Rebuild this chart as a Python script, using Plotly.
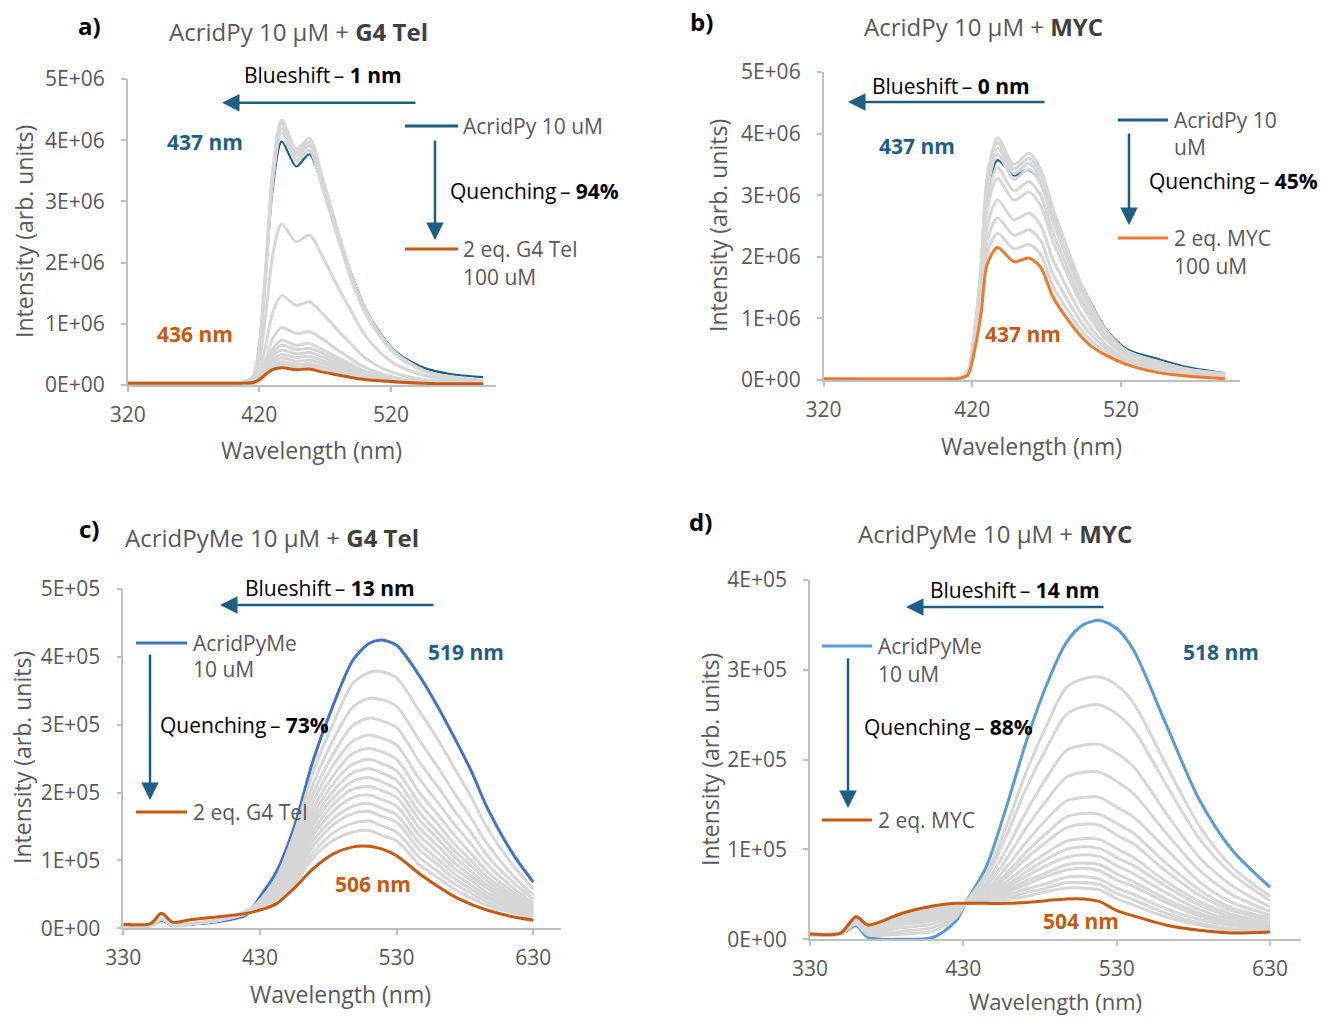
import plotly.graph_objects as go

W, H = 1321, 1018
FONT = "Open Sans"
GRAY_TXT = "#595959"
TEAL = "#1F5F82"
GRAY_LINE = "#D6D6D6"

# ---------------- Panel a: AcridPy + G4 Tel (intensity in units of 1E+06) ----------------
wl_a = [320, 405, 415, 420, 425, 430, 437, 448, 458, 468, 481, 491, 500, 512, 525, 545, 565, 590]
first_a = [0.03, 0.03, 0.14, 0.66, 1.85, 3.18, 3.98, 3.57, 3.77, 3.25, 2.35, 1.75, 1.27, 0.84, 0.52, 0.28, 0.18, 0.13]
last_a = [0.03, 0.03, 0.04, 0.09, 0.18, 0.25, 0.28, 0.25, 0.26, 0.21, 0.16, 0.12, 0.09, 0.07, 0.05, 0.03, 0.02, 0.02]
gray_a = [
    [0.03, 0.03, 0.13, 0.65, 1.95, 3.46, 4.33, 3.85, 4.03, 3.38, 2.42, 1.73, 1.26, 0.82, 0.50, 0.24, 0.13, 0.07],
    [0.03, 0.03, 0.13, 0.64, 1.92, 3.42, 4.27, 3.80, 3.97, 3.33, 2.39, 1.71, 1.24, 0.81, 0.49, 0.23, 0.13, 0.07],
    [0.03, 0.03, 0.13, 0.63, 1.89, 3.36, 4.20, 3.74, 3.91, 3.28, 2.35, 1.68, 1.22, 0.80, 0.48, 0.23, 0.13, 0.07],
    [0.03, 0.03, 0.12, 0.62, 1.85, 3.30, 4.12, 3.67, 3.83, 3.21, 2.31, 1.65, 1.19, 0.78, 0.47, 0.23, 0.12, 0.07],
    [0.03, 0.03, 0.08, 0.39, 1.18, 2.10, 2.63, 2.34, 2.45, 2.10, 1.55, 1.16, 0.82, 0.53, 0.32, 0.16, 0.09, 0.05],
    [0.03, 0.03, 0.04, 0.22, 0.66, 1.17, 1.46, 1.30, 1.36, 1.17, 0.86, 0.64, 0.45, 0.29, 0.18, 0.09, 0.05, 0.03],
    [0.03, 0.03, 0.03, 0.14, 0.42, 0.75, 0.94, 0.84, 0.87, 0.75, 0.55, 0.41, 0.29, 0.19, 0.11, 0.06, 0.04, 0.03],
    [0.03, 0.03, 0.03, 0.11, 0.33, 0.58, 0.73, 0.65, 0.68, 0.58, 0.43, 0.32, 0.23, 0.15, 0.09, 0.05, 0.03, 0.02],
    [0.03, 0.03, 0.03, 0.10, 0.29, 0.52, 0.65, 0.58, 0.60, 0.52, 0.38, 0.29, 0.20, 0.13, 0.08, 0.04, 0.03, 0.02],
    [0.03, 0.03, 0.03, 0.09, 0.26, 0.46, 0.57, 0.51, 0.53, 0.46, 0.34, 0.25, 0.18, 0.11, 0.07, 0.04, 0.03, 0.02],
    [0.03, 0.03, 0.03, 0.08, 0.23, 0.40, 0.50, 0.45, 0.47, 0.40, 0.30, 0.22, 0.16, 0.10, 0.06, 0.04, 0.03, 0.02],
    [0.03, 0.03, 0.03, 0.07, 0.20, 0.35, 0.44, 0.39, 0.41, 0.35, 0.26, 0.19, 0.14, 0.09, 0.05, 0.03, 0.02, 0.02],
    [0.03, 0.03, 0.03, 0.06, 0.17, 0.30, 0.38, 0.34, 0.35, 0.30, 0.22, 0.17, 0.12, 0.08, 0.05, 0.03, 0.02, 0.02],
    [0.03, 0.03, 0.03, 0.05, 0.15, 0.26, 0.33, 0.29, 0.31, 0.26, 0.19, 0.15, 0.10, 0.07, 0.04, 0.03, 0.02, 0.02],
]

# ---------------- Panel b: AcridPy + MYC (units of 1E+06) ----------------
wl_b = [320, 405, 412, 417, 421, 426, 430, 437, 448, 458, 466, 474, 483, 492, 500, 510, 524, 545, 566, 590]
first_b = [0.02, 0.02, 0.04, 0.14, 0.63, 1.72, 3.00, 3.57, 3.32, 3.41, 3.20, 2.70, 2.15, 1.62, 1.24, 0.82, 0.50, 0.34, 0.20, 0.11]
last_b = [0.02, 0.02, 0.03, 0.08, 0.42, 1.10, 1.88, 2.15, 1.92, 1.98, 1.83, 1.36, 1.02, 0.74, 0.55, 0.40, 0.25, 0.12, 0.06, 0.02]
gray_b = [
    [0.02, 0.02, 0.04, 0.15, 0.70, 1.90, 3.30, 3.93, 3.50, 3.68, 3.42, 2.80, 2.20, 1.62, 1.22, 0.80, 0.47, 0.30, 0.17, 0.10],
    [0.02, 0.02, 0.04, 0.15, 0.69, 1.86, 3.24, 3.85, 3.43, 3.60, 3.35, 2.73, 2.15, 1.58, 1.19, 0.78, 0.46, 0.29, 0.17, 0.10],
    [0.02, 0.02, 0.04, 0.14, 0.67, 1.82, 3.16, 3.76, 3.35, 3.52, 3.27, 2.66, 2.09, 1.54, 1.16, 0.76, 0.45, 0.28, 0.16, 0.09],
    [0.02, 0.02, 0.04, 0.14, 0.66, 1.78, 3.08, 3.66, 3.26, 3.42, 3.18, 2.58, 2.02, 1.49, 1.12, 0.74, 0.44, 0.27, 0.15, 0.09],
    [0.02, 0.02, 0.04, 0.13, 0.62, 1.68, 2.92, 3.45, 3.07, 3.22, 2.99, 2.41, 1.88, 1.38, 1.04, 0.69, 0.41, 0.25, 0.14, 0.08],
    [0.02, 0.02, 0.04, 0.12, 0.60, 1.60, 2.77, 3.27, 2.92, 3.05, 2.83, 2.26, 1.76, 1.29, 0.97, 0.65, 0.39, 0.23, 0.13, 0.07],
    [0.02, 0.02, 0.03, 0.11, 0.54, 1.44, 2.49, 2.92, 2.60, 2.71, 2.51, 1.97, 1.53, 1.12, 0.84, 0.57, 0.34, 0.20, 0.11, 0.05],
    [0.02, 0.02, 0.03, 0.10, 0.50, 1.32, 2.26, 2.63, 2.35, 2.44, 2.26, 1.73, 1.34, 0.98, 0.73, 0.51, 0.31, 0.17, 0.09, 0.04],
    [0.02, 0.02, 0.03, 0.09, 0.46, 1.20, 2.06, 2.38, 2.13, 2.20, 2.04, 1.53, 1.17, 0.85, 0.64, 0.45, 0.28, 0.14, 0.07, 0.03],
]

# ---------------- Panel c: AcridPyMe + G4 Tel (units of 1E+05) ----------------
wl_c = [330, 350, 358, 366, 380, 400, 420, 432, 442, 455, 469, 484, 498, 510, 519, 530, 547, 560, 572, 585, 596, 615, 630]
first_c = [0.04, 0.04, 0.12, 0.04, 0.06, 0.10, 0.20, 0.52, 0.83, 1.49, 2.48, 3.31, 3.95, 4.20, 4.25, 4.17, 3.71, 3.27, 2.82, 2.30, 1.79, 1.10, 0.68]
last_c = [0.06, 0.07, 0.22, 0.09, 0.13, 0.17, 0.22, 0.28, 0.36, 0.59, 0.88, 1.10, 1.20, 1.21, 1.17, 1.07, 0.80, 0.62, 0.47, 0.35, 0.27, 0.17, 0.12]
gray_c = [
    [0.04, 0.04, 0.14, 0.05, 0.07, 0.12, 0.22, 0.46, 0.74, 1.39, 2.31, 3.04, 3.61, 3.77, 3.78, 3.69, 3.19, 2.79, 2.37, 1.92, 1.49, 0.93, 0.58],
    [0.04, 0.04, 0.14, 0.05, 0.07, 0.12, 0.23, 0.45, 0.71, 1.29, 2.13, 2.79, 3.26, 3.39, 3.37, 3.27, 2.76, 2.38, 2.00, 1.61, 1.25, 0.78, 0.49],
    [0.04, 0.04, 0.14, 0.05, 0.07, 0.12, 0.24, 0.44, 0.67, 1.21, 1.99, 2.58, 2.99, 3.10, 3.06, 2.96, 2.44, 2.09, 1.74, 1.40, 1.08, 0.68, 0.43],
    [0.04, 0.04, 0.14, 0.05, 0.07, 0.12, 0.25, 0.43, 0.64, 1.13, 1.87, 2.41, 2.76, 2.85, 2.80, 2.70, 2.19, 1.86, 1.54, 1.23, 0.95, 0.60, 0.38],
    [0.04, 0.04, 0.14, 0.05, 0.07, 0.12, 0.25, 0.42, 0.62, 1.07, 1.76, 2.26, 2.58, 2.65, 2.60, 2.49, 1.99, 1.68, 1.38, 1.09, 0.84, 0.54, 0.34],
    [0.04, 0.04, 0.14, 0.05, 0.07, 0.12, 0.25, 0.41, 0.60, 1.02, 1.67, 2.14, 2.42, 2.49, 2.43, 2.32, 1.83, 1.54, 1.25, 0.99, 0.76, 0.49, 0.31],
    [0.04, 0.04, 0.14, 0.05, 0.07, 0.12, 0.25, 0.40, 0.58, 0.97, 1.59, 2.03, 2.29, 2.35, 2.29, 2.18, 1.70, 1.42, 1.15, 0.91, 0.70, 0.45, 0.29],
    [0.04, 0.04, 0.14, 0.05, 0.07, 0.12, 0.25, 0.39, 0.56, 0.93, 1.52, 1.93, 2.17, 2.22, 2.16, 2.05, 1.59, 1.32, 1.06, 0.83, 0.64, 0.42, 0.27],
    [0.04, 0.04, 0.14, 0.05, 0.07, 0.12, 0.25, 0.38, 0.53, 0.88, 1.44, 1.83, 2.05, 2.09, 2.03, 1.93, 1.47, 1.22, 0.97, 0.76, 0.59, 0.38, 0.25],
    [0.04, 0.04, 0.14, 0.05, 0.07, 0.12, 0.25, 0.37, 0.51, 0.84, 1.37, 1.73, 1.93, 1.96, 1.90, 1.80, 1.36, 1.12, 0.89, 0.70, 0.53, 0.35, 0.23],
    [0.04, 0.04, 0.14, 0.05, 0.07, 0.12, 0.25, 0.36, 0.48, 0.79, 1.29, 1.62, 1.80, 1.84, 1.77, 1.67, 1.25, 1.02, 0.81, 0.63, 0.48, 0.32, 0.21],
    [0.04, 0.04, 0.14, 0.05, 0.07, 0.12, 0.25, 0.35, 0.46, 0.74, 1.21, 1.53, 1.69, 1.72, 1.65, 1.56, 1.15, 0.94, 0.74, 0.57, 0.44, 0.29, 0.19],
    [0.04, 0.04, 0.14, 0.05, 0.07, 0.12, 0.24, 0.33, 0.43, 0.69, 1.12, 1.41, 1.55, 1.58, 1.51, 1.42, 1.04, 0.84, 0.66, 0.51, 0.39, 0.26, 0.17],
    [0.04, 0.04, 0.14, 0.05, 0.07, 0.12, 0.23, 0.31, 0.39, 0.64, 1.04, 1.30, 1.42, 1.44, 1.37, 1.29, 0.93, 0.75, 0.58, 0.44, 0.34, 0.23, 0.15],
]

# ---------------- Panel d: AcridPyMe + MYC (units of 1E+05) ----------------
wl_d = [330, 350, 360, 368, 390, 410, 425, 432, 445, 458, 471, 484, 497, 508, 519, 530, 541, 562, 584, 605, 630]
first_d = [0.05, 0.06, 0.15, 0.02, 0.00, 0.02, 0.20, 0.42, 0.81, 1.47, 2.20, 2.82, 3.30, 3.50, 3.55, 3.46, 3.22, 2.40, 1.55, 1.00, 0.58]
last_d = [0.06, 0.07, 0.25, 0.16, 0.29, 0.37, 0.40, 0.40, 0.40, 0.40, 0.41, 0.43, 0.45, 0.45, 0.42, 0.32, 0.26, 0.16, 0.10, 0.07, 0.08]
gray_d = [
    [0.05, 0.06, 0.17, 0.05, 0.06, 0.09, 0.24, 0.42, 0.73, 1.26, 1.86, 2.37, 2.80, 2.90, 2.92, 2.83, 2.63, 1.95, 1.26, 0.81, 0.48],
    [0.05, 0.06, 0.18, 0.06, 0.09, 0.13, 0.26, 0.41, 0.69, 1.15, 1.68, 2.12, 2.50, 2.59, 2.61, 2.51, 2.33, 1.73, 1.12, 0.73, 0.43],
    [0.05, 0.06, 0.19, 0.08, 0.13, 0.17, 0.29, 0.41, 0.63, 1.00, 1.42, 1.79, 2.10, 2.16, 2.17, 2.07, 1.92, 1.41, 0.91, 0.60, 0.36],
    [0.05, 0.07, 0.20, 0.10, 0.16, 0.21, 0.31, 0.41, 0.59, 0.89, 1.24, 1.54, 1.80, 1.86, 1.86, 1.76, 1.62, 1.19, 0.77, 0.50, 0.31],
    [0.06, 0.07, 0.21, 0.11, 0.18, 0.24, 0.33, 0.41, 0.55, 0.80, 1.08, 1.33, 1.54, 1.58, 1.58, 1.47, 1.36, 1.01, 0.64, 0.41, 0.27],
    [0.06, 0.07, 0.22, 0.12, 0.20, 0.26, 0.34, 0.41, 0.53, 0.73, 0.97, 1.18, 1.36, 1.40, 1.39, 1.29, 1.18, 0.85, 0.55, 0.35, 0.24],
    [0.06, 0.07, 0.22, 0.12, 0.21, 0.28, 0.35, 0.41, 0.51, 0.69, 0.90, 1.08, 1.24, 1.28, 1.27, 1.16, 1.06, 0.76, 0.49, 0.32, 0.22],
    [0.06, 0.07, 0.23, 0.13, 0.23, 0.29, 0.36, 0.40, 0.49, 0.64, 0.81, 0.96, 1.09, 1.12, 1.11, 1.01, 0.91, 0.65, 0.42, 0.28, 0.19],
    [0.06, 0.07, 0.23, 0.13, 0.23, 0.30, 0.36, 0.40, 0.48, 0.60, 0.75, 0.89, 1.00, 1.03, 1.01, 0.91, 0.82, 0.59, 0.38, 0.25, 0.18],
    [0.06, 0.07, 0.23, 0.14, 0.24, 0.31, 0.37, 0.40, 0.47, 0.57, 0.70, 0.82, 0.91, 0.94, 0.92, 0.82, 0.73, 0.52, 0.33, 0.22, 0.16],
    [0.06, 0.07, 0.24, 0.14, 0.25, 0.32, 0.37, 0.40, 0.45, 0.54, 0.65, 0.74, 0.83, 0.85, 0.83, 0.73, 0.64, 0.45, 0.29, 0.19, 0.14],
    [0.06, 0.07, 0.24, 0.14, 0.26, 0.33, 0.38, 0.40, 0.44, 0.52, 0.61, 0.70, 0.77, 0.79, 0.76, 0.66, 0.59, 0.41, 0.26, 0.17, 0.13],
    [0.06, 0.07, 0.24, 0.15, 0.27, 0.34, 0.38, 0.40, 0.43, 0.49, 0.56, 0.62, 0.69, 0.70, 0.67, 0.57, 0.50, 0.34, 0.22, 0.15, 0.12],
    [0.06, 0.07, 0.24, 0.15, 0.27, 0.35, 0.39, 0.40, 0.43, 0.46, 0.52, 0.57, 0.63, 0.63, 0.61, 0.51, 0.44, 0.29, 0.18, 0.12, 0.11],
    [0.06, 0.07, 0.25, 0.15, 0.28, 0.36, 0.39, 0.40, 0.42, 0.44, 0.48, 0.53, 0.57, 0.57, 0.55, 0.45, 0.38, 0.25, 0.16, 0.10, 0.10],
]

# tick labels
xticks_ab = [320, 420, 520]
xticks_cd = [330, 430, 530, 630]
yticks_ab = [0, 1, 2, 3, 4, 5]
yticklabels_ab = ["0E+00", "1E+06", "2E+06", "3E+06", "4E+06", "5E+06"]
yticks_c = [0, 1, 2, 3, 4, 5]
yticklabels_c = ["0E+00", "1E+05", "2E+05", "3E+05", "4E+05", "5E+05"]
yticks_d = [0, 1, 2, 3, 4]
yticklabels_d = ["0E+00", "1E+05", "2E+05", "3E+05", "4E+05"]


def px(x):
    return x / W


def py(y):
    return 1 - y / H


ORG_A = "#C55A11"
ORG_B = "#EE7A30"
BLUE_C = "#4472C4"
BLUE_D = "#5B9BD5"

panels = [
    # axis key, wl, first, last, grays, first colour, last colour, x-domain px, y-domain px (top,bottom), xrange, ymax, xticks, yticks, labels, first width
    ("", wl_a, first_a, last_a, gray_a, TEAL, ORG_A, (127.7, 496.3), (79, 385), [320, 600], 5, xticks_ab, yticks_ab, yticklabels_ab, 2.2),
    ("2", wl_b, first_b, last_b, gray_b, TEAL, ORG_B, (823.6, 1240), (72, 380), [320, 600], 5, xticks_ab, yticks_ab, yticklabels_ab, 2.2),
    ("3", wl_c, first_c, last_c, gray_c, BLUE_C, ORG_A, (123.3, 560.6), (589, 928.3), [330, 650], 5, xticks_cd, yticks_c, yticklabels_c, 3),
    ("4", wl_d, first_d, last_d, gray_d, BLUE_D, ORG_A, (810, 1300.7), (580, 939.3), [330, 650], 4, xticks_cd, yticks_d, yticklabels_d, 3),
]

fig = go.Figure()
layout = dict(
    width=W, height=H, margin=dict(l=0, r=0, t=0, b=0, autoexpand=False),
    paper_bgcolor="white", plot_bgcolor="white", showlegend=False,
    font=dict(family=FONT, color=GRAY_TXT),
)

for key, wl, first, last, grays, c_first, c_last, xd, yd, xr, ymax, xt, yt, ytl, fw in panels:
    xa, ya = "x" + key, "y" + key
    fig.add_trace(go.Scatter(x=wl, y=first, mode="lines", xaxis=xa, yaxis=ya,
                             line=dict(color=c_first, width=fw, shape="spline", smoothing=0.8), hoverinfo="skip"))
    for g in grays:
        fig.add_trace(go.Scatter(x=wl, y=g, mode="lines", xaxis=xa, yaxis=ya,
                                 line=dict(color=GRAY_LINE, width=3, shape="spline", smoothing=0.8),
                                 hoverinfo="skip"))
    fig.add_trace(go.Scatter(x=wl, y=last, mode="lines", xaxis=xa, yaxis=ya,
                             line=dict(color=c_last, width=3, shape="spline", smoothing=0.8), hoverinfo="skip"))
    axcommon = dict(showline=True, linecolor="#BFBFBF", linewidth=1.5, ticks="outside", tickcolor="#BFBFBF",
                    ticklen=5, tickwidth=1.5, showgrid=False, zeroline=False, automargin=False,
                    tickfont=dict(family=FONT, size=21, color=GRAY_TXT))
    layout["xaxis" + key] = dict(domain=[px(xd[0]), px(xd[1])], range=xr, tickvals=xt, anchor=ya,
                                 ticklabelstandoff=5, **axcommon)
    layout["yaxis" + key] = dict(domain=[py(yd[1]), py(yd[0])], range=[0, ymax], tickvals=yt, ticktext=ytl,
                                 anchor=xa, ticklabelstandoff=12, **axcommon)

fig.update_layout(**layout)

ann = []
shapes = []


def text(x, y, s, size=21, color=GRAY_TXT, xanchor="center", angle=0):
    ann.append(dict(x=px(x), y=py(y), xref="paper", yref="paper", text=s, showarrow=False,
                    xanchor=xanchor, yanchor="middle", textangle=angle,
                    font=dict(family=FONT, size=size, color=color)))


def arrow(x0, y0, x1, y1):
    # tail (x0,y0) -> head (x1,y1), pixel coords
    ann.append(dict(x=px(x1), y=py(y1), xref="paper", yref="paper", ax=x0 - x1, ay=y0 - y1,
                    axref="pixel", ayref="pixel", text="", showarrow=True, arrowhead=2,
                    arrowsize=1.4, arrowwidth=2.5, arrowcolor=TEAL, standoff=0))


def legline(x0, x1, y, color):
    shapes.append(dict(type="line", xref="paper", yref="paper", x0=px(x0), x1=px(x1), y0=py(y), y1=py(y),
                       line=dict(color=color, width=3)))


BLUE_LBL = "#1F5F82"
ORG_LBL = "#C55A11"
DASH = "\u2009\u2013 "
TS = 24   # panel title size
AS = 21   # annotation size
XS = 23   # axis title size

# Panel a
text(89, 25, "<b>a)</b>", 24, "black")
text(298, 32, "AcridPy 10 µM + <b><span style='color:#404040'>G4 Tel</span></b>", TS)
text(323, 75, "Blueshift" + DASH + "<b>1 nm</b>", AS, "black")
arrow(417, 102.7, 222, 102.7)
legline(405, 458, 126, TEAL)
text(461, 126, "AcridPy 10 uM", AS, GRAY_TXT, "left")
arrow(435, 139, 435, 240)
text(448, 191, "Quenching" + DASH + "<b>94%</b>", AS, "black", "left")
legline(405, 458, 249, ORG_A)
text(461, 249, "2 eq. G4 Tel", AS, GRAY_TXT, "left")
text(461, 277, "100 uM", AS, GRAY_TXT, "left")
text(205, 141.5, "<b>437 nm</b>", AS, BLUE_LBL)
text(194.5, 334.5, "<b>436 nm</b>", AS, ORG_LBL)
text(24, 232, "Intensity (arb. units)", XS, GRAY_TXT, "center", -90)
text(311, 450, "Wavelength (nm)", XS)

# Panel b
text(701, 22, "<b>b)</b>", 24, "black")
text(983, 26, "AcridPy 10 µM + <b><span style='color:#404040'>MYC</span></b>", TS)
text(951, 86, "Blueshift" + DASH + "<b>0 nm</b>", AS, "black")
arrow(1046, 102, 848, 102)
legline(1118, 1168, 120, TEAL)
text(1172, 120, "AcridPy 10", AS, GRAY_TXT, "left")
text(1172, 147, "uM", AS, GRAY_TXT, "left")
arrow(1129, 132, 1129, 225)
text(1147, 181, "Quenching" + DASH + "<b>45%</b>", AS, "black", "left")
legline(1118, 1168, 238, ORG_B)
text(1172, 238, "2 eq. MYC", AS, GRAY_TXT, "left")
text(1172, 266, "100 uM", AS, GRAY_TXT, "left")
text(917, 146, "<b>437 nm</b>", AS, BLUE_LBL)
text(1023, 334, "<b>437 nm</b>", AS, ORG_LBL)
text(718, 226, "Intensity (arb. units)", XS, GRAY_TXT, "center", -90)
text(1031, 446, "Wavelength (nm)", XS)

# Panel c
text(89, 528, "<b>c)</b>", 24, "black")
text(272, 537, "AcridPyMe 10 µM + <b><span style='color:#404040'>G4 Tel</span></b>", TS)
text(330, 588, "Blueshift" + DASH + "<b>13 nm</b>", AS, "black")
arrow(435, 605, 220, 605)
legline(136, 187, 643, BLUE_C)
text(191, 643, "AcridPyMe", AS, GRAY_TXT, "left")
text(191, 669, "10 uM", AS, GRAY_TXT, "left")
arrow(150, 653, 150, 800)
text(158, 725, "Quenching" + DASH + "<b>73%</b>", AS, "black", "left")
legline(136, 187, 812, ORG_A)
text(191, 812, "2 eq. G4 Tel", AS, GRAY_TXT, "left")
text(466, 652, "<b>519 nm</b>", AS, BLUE_LBL)
text(373, 884, "<b>506 nm</b>", AS, ORG_LBL)
text(22, 758, "Intensity (arb. units)", XS, GRAY_TXT, "center", -90)
text(340, 994, "Wavelength (nm)", XS)

# Panel d
text(700, 521, "<b>d)</b>", 24, "black")
text(995, 533, "AcridPyMe 10 µM + <b><span style='color:#404040'>MYC</span></b>", TS)
text(1015, 590, "Blueshift" + DASH + "<b>14 nm</b>", AS, "black")
arrow(1105, 607, 906, 607)
legline(822, 872, 646, BLUE_D)
text(876, 646, "AcridPyMe", AS, GRAY_TXT, "left")
text(876, 674, "10 uM", AS, GRAY_TXT, "left")
arrow(848, 657, 848, 808)
text(862, 727, "Quenching" + DASH + "<b>88%</b>", AS, "black", "left")
legline(822, 872, 820, ORG_A)
text(876, 820, "2 eq. MYC", AS, GRAY_TXT, "left")
text(1221, 652, "<b>518 nm</b>", AS, BLUE_LBL)
text(1081, 921, "<b>504 nm</b>", AS, ORG_LBL)
text(710, 760, "Intensity (arb. units)", XS, GRAY_TXT, "center", -90)
text(1055, 1001, "Wavelength (nm)", 22)

fig.update_layout(annotations=ann, shapes=shapes)
fig.write_html("out.html")
